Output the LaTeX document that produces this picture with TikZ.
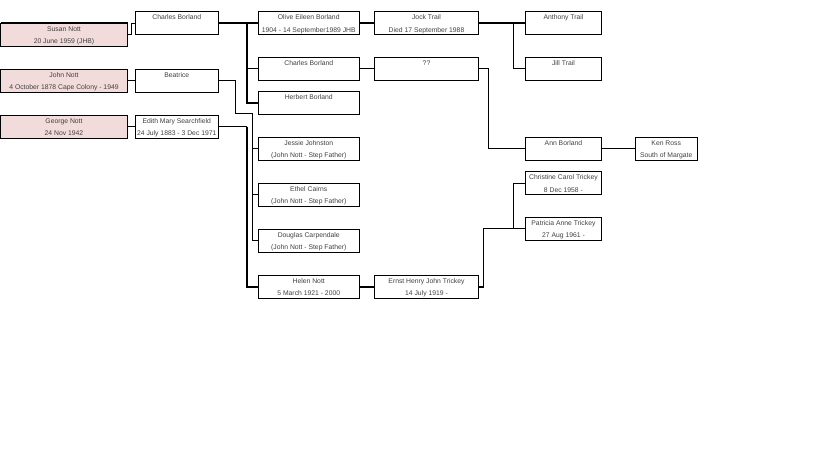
\documentclass[tikz,border=0pt]{standalone}
\usepackage{fontspec}
\setmainfont{Liberation Sans}
\usetikzlibrary{positioning}
\definecolor{nottpink}{RGB}{242,220,219}
\newcommand{\famcard}[2]{\rule{0pt}{8pt}#1\\#2\rule[-2pt]{0pt}{2pt}}

\begin{document}
\begin{tikzpicture}[
    x=1pt, y=-1pt,
    line width=0.9pt,
    person/.style={
        rectangle,
        draw=black,
        line width=0.9pt,
        minimum height=23pt,
        inner sep=0pt,
        outer sep=0pt,
        align=center,
        text=black!75,
        font=\fontsize{6.8}{12.4}\selectfont
    },
    nott/.style={person, fill=nottpink, minimum width=127pt},
    gen2/.style={person, minimum width=83.5pt},
    gen3/.style={person, minimum width=101.5pt},
    gen4/.style={person, minimum width=104pt},
    gen5/.style={person, minimum width=76.5pt},
    gen6/.style={person, minimum width=62pt},
    kin/.style={line width=2pt}
]
    \useasboundingbox (0,0) rectangle (819,460);

    % THIRD COLUMN Borland and Nott children
    \node[gen3] (olive) at (308.75, 23) {\famcard{Olive Eileen Borland}{1904 - 14 September1989 JHB}};
    \node[gen3, below=22.5pt of olive] (charlesB) {\famcard{Charles Borland}{}};
    \node[gen3, below=11pt of charlesB] (herbert) {\famcard{Herbert Borland}{}};
    \node[gen3, below=23pt of herbert] (jessie) {\famcard{Jessie Johnston}{(John Nott - Step Father)}};
    \node[gen3, below=23pt of jessie] (ethel) {\famcard{Ethel Cairns}{(John Nott - Step Father)}};
    \node[gen3, below=23pt of ethel] (douglas) {\famcard{Douglas Carpendale}{(John Nott - Step Father)}};
    \node[gen3, below=23pt of douglas] (helen) {\famcard{Helen Nott}{5 March 1921 - 2000}};

    % Spouses
    \node[gen4, right=15pt of olive] (jock) {\famcard{Jock Trail}{Died 17 September 1988}};
    \node[gen4, right=15pt of charlesB] (qq) {\famcard{??}{}};
    \node[gen4, right=15pt of helen] (ernst) {\famcard{Ernst Henry John Trickey}{14 July 1919 -}};

    % Grandchildren
    \node[gen5, right=46.7pt of jock] (anthony) {\famcard{Anthony Trail}{}};
    \node[gen5, below=22.5pt of anthony] (jill) {\famcard{Jill Trail}{}};
    \node[gen5, below=57pt of jill] (ann) {\famcard{Ann Borland}{}};
    \node[gen6, right=33.5pt of ann] (kenross) {\famcard{Ken Ross}{South of Margate}};
    \node[gen5, below=11.5pt of ann] (christine) {\famcard{Christine Carol Trickey}{8 Dec 1958 -}};
    \node[gen5, below=22.5pt of christine] (patricia) {\famcard{Patricia Anne Trickey}{27 Aug 1961 -}};

    % SECOND COLUMN parents
    \node[gen2, left=39.5pt of olive] (charlesL) {\famcard{Charles Borland}{}};
    \node[gen2, below=34.5pt of charlesL] (beatrice) {\famcard{Beatrice}{}};
    \node[gen2, below=23pt of beatrice] (edith) {\famcard{Edith Mary Searchfield}{24 July 1883 - 3 Dec 1971}};

    % FIRST COLUMN Notts
    \node[nott] (susan) at (64, 34.5) {\famcard{Susan Nott}{20 June 1959 (JHB)}};
    \node[nott, left=7.5pt of beatrice] (john) {\famcard{John Nott}{4 October 1878 Cape Colony - 1949}};
    \node[nott, left=7.5pt of edith] (george) {\famcard{George Nott}{24 Nov 1942}};
    \draw[kin] (susan.north west) -- (susan.north east);

    % Connectors
    \draw (susan.east) -- ++(3.5,0) |- (charlesL.west);
    \draw (john.east) -- (beatrice.west);
    \draw (george.east) -- (edith.west);

    \draw[kin] (charlesL.east) -- (olive.west);
    \draw[kin] ([xshift=-11.3pt]olive.west) |- (herbert.west);
    \draw ([xshift=-11.3pt]charlesB.west) -- (charlesB.west);

    \draw (beatrice.east) -| ++(16.5,32.5) -| ([xshift=-5.3pt]douglas.west) -- (douglas.west);
    \draw ([xshift=-5.3pt]jessie.west) -- (jessie.west);
    \draw ([xshift=-5.3pt]ethel.west) -- (ethel.west);

    \coordinate (eh) at ([xshift=-11.3pt]helen.west |- edith.east);
    \draw (edith.east) -- (eh);
    \draw[kin] (eh) |- (helen.west);

    \draw[kin] (olive.east) -- (jock.west);
    \draw[kin] (jock.east) -- (anthony.west);
    \draw ([xshift=-11.7pt]anthony.west) |- (jill.west);

    \draw (charlesB.east) -- (qq.west);
    \draw (qq.east) -- ++(10,0) |- (ann.west);
    \draw (ann.east) -- (kenross.west);

    \draw[kin] (helen.east) -- (ernst.west);
    \draw[kin] (ernst.east) -- ++(5,0) coordinate (et);
    \draw (et) |- (patricia.west);
    \draw ([xshift=-11.7pt]patricia.west) |- (christine.west);
\end{tikzpicture}
\end{document}
